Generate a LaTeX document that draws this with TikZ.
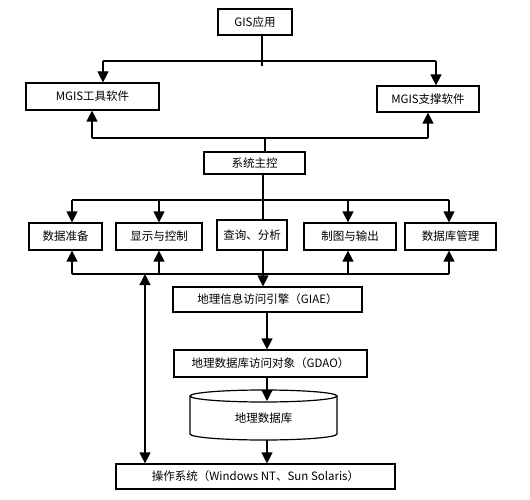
\documentclass[tikz,border=0pt]{standalone}
\usepackage{fontspec}
\setmainfont{Noto Sans CJK SC}
\usetikzlibrary{arrows.meta}
\begin{document}
\begin{tikzpicture}[x=1pt,y=1pt,yscale=-1,xscale=1,
    box/.style={draw,line width=1.2pt,inner sep=0pt,font=\fontsize{11.5}{13}\selectfont},
    ln/.style={line width=1.2pt},
    arr/.style={line width=1.2pt,-{Triangle[width=11pt,length=11pt]}},
    dbl/.style={line width=1.2pt,{Triangle[width=11pt,length=11pt]}-{Triangle[width=11pt,length=11pt]}}]
    \useasboundingbox (0,0) rectangle (530,500);

    % Boxes
    \node[box,minimum width=74pt,minimum height=26pt] (app) at (255,22) {GIS应用};
    \node[box,minimum width=133pt,minimum height=27pt] (tool) at (92.5,96.5) {MGIS工具软件};
    \node[box,minimum width=102pt,minimum height=26pt] (support) at (428,99) {MGIS支撑软件};
    \node[box,minimum width=101pt,minimum height=22pt] (ctrl) at (254.5,163) {系统主控};
    \node[box,minimum width=73pt,minimum height=27pt] (prep) at (65.5,236.5) {数据准备};
    \node[box,minimum width=86pt,minimum height=27pt] (disp) at (159,236.5) {显示与控制};
    \node[box,minimum width=70pt,minimum height=30pt] (query) at (252,235) {查询、分析};
    \node[box,minimum width=92pt,minimum height=27pt] (cab) at (350,236.5) {制图与输出};
    \node[box,minimum width=91pt,minimum height=27pt] (dbm) at (450.5,236.5) {数据库管理};
    \node[box,minimum width=189pt,minimum height=25pt] (giae) at (267.5,299.5) {地理信息访问引擎（GIAE）};
    \node[box,minimum width=193pt,minimum height=27pt] (gdao) at (270.5,363.5) {地理数据库访问对象（GDAO）};
    \node[box,minimum width=279pt,minimum height=25pt] (os) at (255.5,476.5) {操作系统（Windows NT、Sun Solaris）};

    % Cylinder
    \draw[ln] (263.5,396) ellipse [x radius=73.5,y radius=6];
    \draw[ln] (190,396) -- (190,434) arc [start angle=180,end angle=0,x radius=73.5,y radius=6] -- (337,396);
    \node[font=\fontsize{11.5}{13}\selectfont] (db) at (263.5,418) {地理数据库};
    \coordinate (dbtop) at (267,401);
    \coordinate (dbbot) at (267,440);

    % Top bus
    \coordinate (s1) at (262,66);
    \coordinate (topL) at (103,61);
    \coordinate (topR) at (436,61);
    \draw[ln] (s1 |- app.south) -- (s1);
    \draw[ln] (topL) -- (topR);
    \draw[arr] (topL) -- (topL |- tool.north);
    \draw[arr] (topR) -- (topR |- support.north);

    % Second bus
    \coordinate (s2) at (265,138);
    \coordinate (midL) at (92,138);
    \coordinate (midR) at (428,138);
    \draw[ln] (s2 |- ctrl.north) -- (s2);
    \draw[ln] (midL) -- (midR);
    \draw[arr] (midL) -- (midL |- tool.south);
    \draw[arr] (midR) -- (midR |- support.south);

    % Third bus
    \coordinate (s3) at (263,200);
    \coordinate (busL) at (72,200);
    \coordinate (c1) at (159,200);
    \coordinate (c2) at (348,200);
    \coordinate (busR) at (449,200);
    \draw[ln] (s3 |- ctrl.south) -- (s3 |- query.north);
    \draw[ln] (busL) -- (busR);
    \draw[arr] (busL) -- (busL |- prep.north);
    \draw[arr] (c1) -- (c1 |- disp.north);
    \draw[arr] (c2) -- (c2 |- cab.north);
    \draw[arr] (busR) -- (busR |- dbm.north);

    % Fourth bus
    \coordinate (lowL) at (72,274);
    \coordinate (d1) at (159,274);
    \coordinate (d2) at (348,274);
    \coordinate (lowR) at (449,274);
    \coordinate (os1) at (145,274);
    \draw[ln] (lowL) -- (lowR);
    \draw[arr] (lowL) -- (lowL |- prep.south);
    \draw[arr] (d1) -- (d1 |- disp.south);
    \draw[arr] (d2) -- (d2 |- cab.south);
    \draw[arr] (lowR) -- (lowR |- dbm.south);
    \draw[arr] (s3 |- query.south) -- (s3 |- giae.north);
    \draw[dbl] (os1) -- (os1 |- os.north);

    % Lower chain
    \coordinate (s4) at (267,300);
    \draw[arr] (s4 |- giae.south) -- (s4 |- gdao.north);
    \draw[arr] (s4 |- gdao.south) -- (dbtop);
    \draw[arr] (dbbot) -- (s4 |- os.north);
\end{tikzpicture}
\end{document}
